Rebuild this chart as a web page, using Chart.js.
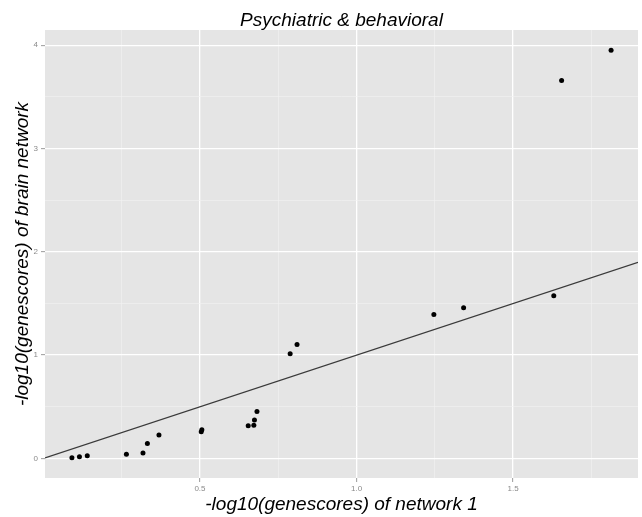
<!DOCTYPE html>
<html>
<head>
<meta charset="utf-8">
<script src="https://cdn.jsdelivr.net/npm/chart.js@4"></script>
<style>
html,body{margin:0;padding:0;background:#fff;}
#wrap{width:642px;height:517px;}
</style>
</head>
<body>
<div id="wrap"><canvas id="c" width="642" height="517"></canvas></div>
<script>
// ---- data ----
const networkScores = [0.091,0.115,0.140,0.265,0.318,0.332,0.369,0.504,0.506,0.654,0.672,0.674,0.682,0.788,0.810,1.247,1.342,1.630,1.655,1.813];
const brainScores   = [0.007,0.016,0.026,0.039,0.051,0.143,0.226,0.257,0.276,0.317,0.320,0.371,0.453,1.012,1.103,1.394,1.458,1.574,3.660,3.951];
const identityLine  = [0.005, 1.899];   // y = x reference line, spanning the x range

const xMajorTicks = [0.5, 1.0, 1.5];
const xTickLabels = ['0.5', '1.0', '1.5'];
const xMinorTicks = [0.25, 0.75, 1.25, 1.75];
const yMajorTicks = [0, 1, 2, 3, 4];
const yTickLabels = ['0', '1', '2', '3', '4'];
const yMinorTicks = [0.5, 1.5, 2.5, 3.5];

const xRange = [0.005, 1.899];
const yRange = [-0.19, 4.148];

const titleText = 'Psychiatric & behavioral';
const xTitle = '-log10(genescores) of network 1';
const yTitle = '-log10(genescores) of brain network';

// ---- build chart ----
const FONT = '"Liberation Sans", Arial, Helvetica, sans-serif';
const points = networkScores.map((x, i) => ({x: x, y: brainScores[i]}));
const linePts = identityLine.map(v => ({x: v, y: v}));

function isMajor(list, v){ return list.some(t => Math.abs(t - v) < 1e-9); }
function labelFor(ticks, labels, v){
  const i = ticks.findIndex(t => Math.abs(t - v) < 1e-9);
  return i >= 0 ? labels[i] : '';
}

const panelBg = {
  id: 'panelBg',
  beforeDraw(chart){
    const {ctx, chartArea: a} = chart;
    ctx.save();
    ctx.fillStyle = '#E5E5E5';
    ctx.fillRect(a.left, a.top, a.right - a.left, a.bottom - a.top);
    ctx.restore();
  }
};

// plot title centred over the panel (as ggplot does)
const panelTitle = {
  id: 'panelTitle',
  afterDraw(chart){
    const {ctx, chartArea: a} = chart;
    ctx.save();
    ctx.fillStyle = '#000000';
    ctx.font = 'italic 19px ' + FONT;
    ctx.textAlign = 'center';
    ctx.textBaseline = 'alphabetic';
    ctx.fillText(titleText, (a.left + a.right) / 2, 26);
    ctx.restore();
  }
};

function gridOpts(major){
  return {
    drawTicks: true,
    tickLength: 4,
    color: c => isMajor(major, c.tick.value) ? '#FFFFFF' : '#F2F2F2',
    lineWidth: c => isMajor(major, c.tick.value) ? 1.3 : 0.6,
    tickColor: c => isMajor(major, c.tick.value) ? '#9a9a9a' : 'rgba(0,0,0,0)',
    tickWidth: 1
  };
}

new Chart(document.getElementById('c'), {
  type: 'scatter',
  data: {
    datasets: [
      {
        data: linePts,
        showLine: true,
        borderColor: '#3a3a3a',
        borderWidth: 1.2,
        pointRadius: 0,
        fill: false
      },
      {
        data: points,
        backgroundColor: '#000000',
        borderColor: '#000000',
        pointRadius: 2.5,
        borderWidth: 0
      }
    ]
  },
  options: {
    responsive: false,
    devicePixelRatio: 1,
    animation: false,
    layout: {padding: {left: 0, right: 2, top: 30, bottom: 0}},
    plugins: {
      legend: {display: false},
      tooltip: {enabled: false},
      title: {display: false}
    },
    scales: {
      x: {
        type: 'linear',
        min: xRange[0],
        max: xRange[1],
        afterBuildTicks: s => { s.ticks = xMinorTicks.concat(xMajorTicks).sort((a,b)=>a-b).map(v => ({value: v})); },
        afterFit: s => { s.height = 39; },
        ticks: {
          autoSkip: false,
          maxRotation: 0,
          padding: 2,
          color: '#8a8a8a',
          font: {family: FONT, size: 8},
          callback: v => labelFor(xMajorTicks, xTickLabels, v)
        },
        grid: gridOpts(xMajorTicks),
        border: {display: false},
        title: {
          display: true,
          text: xTitle,
          color: '#000000',
          font: {family: FONT, size: 19, style: 'italic', weight: 'normal', lineHeight: 1.2},
          padding: {top: 0, bottom: 1}
        }
      },
      y: {
        type: 'linear',
        min: yRange[0],
        max: yRange[1],
        afterBuildTicks: s => { s.ticks = yMinorTicks.concat(yMajorTicks).sort((a,b)=>a-b).map(v => ({value: v})); },
        afterFit: s => { s.width = 45; },
        ticks: {
          autoSkip: false,
          padding: 3,
          color: '#8a8a8a',
          font: {family: FONT, size: 8},
          callback: v => labelFor(yMajorTicks, yTickLabels, v)
        },
        grid: gridOpts(yMajorTicks),
        border: {display: false},
        title: {
          display: true,
          text: yTitle,
          color: '#000000',
          font: {family: FONT, size: 19, style: 'italic', weight: 'normal', lineHeight: 1.2},
          padding: {top: 11, bottom: 0}
        }
      }
    }
  },
  plugins: [panelBg, panelTitle]
});
</script>
</body>
</html>
